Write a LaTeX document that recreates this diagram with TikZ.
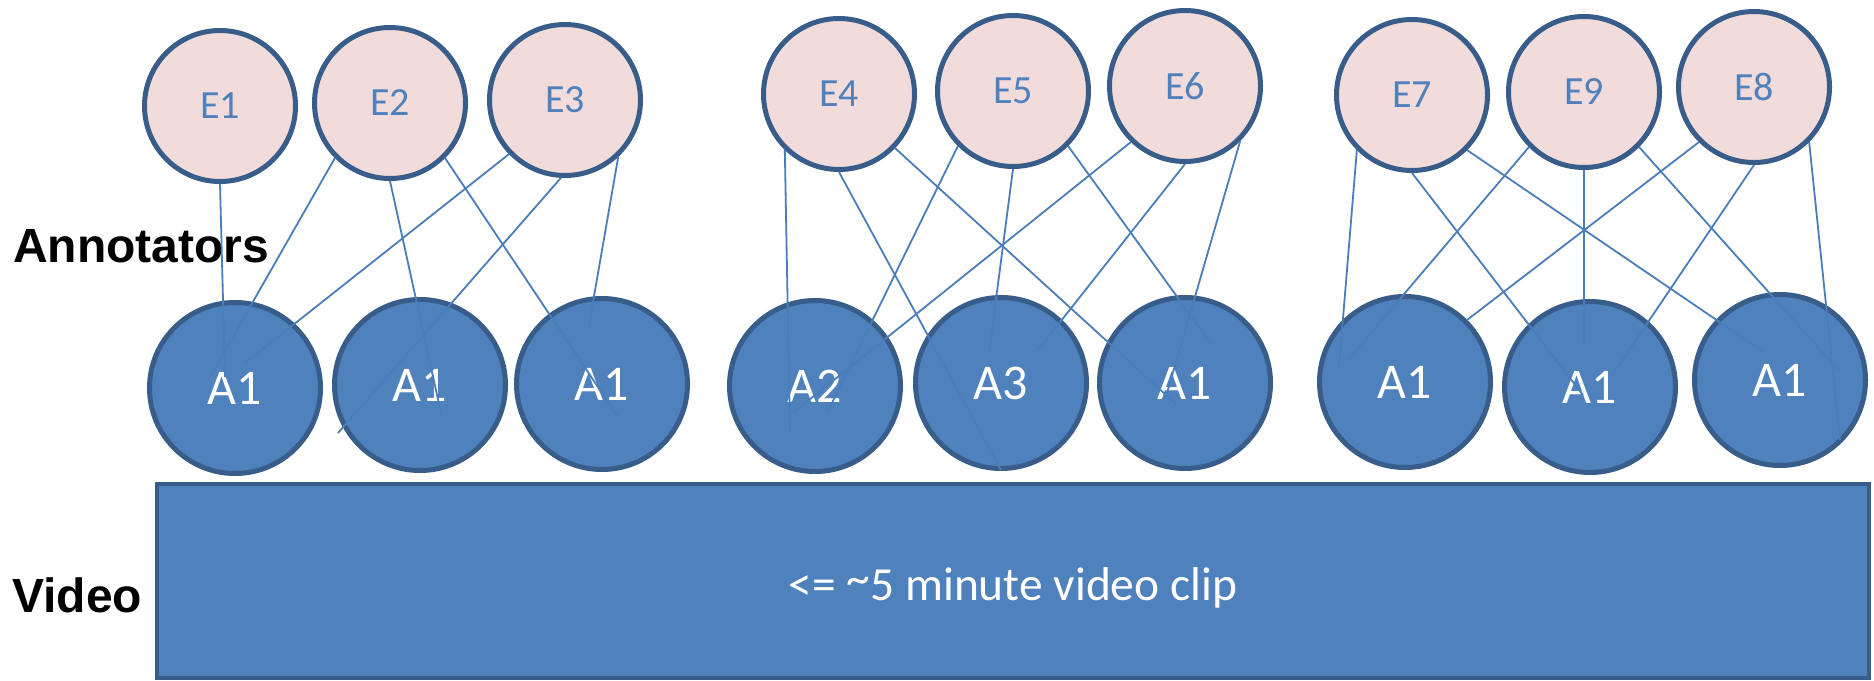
\documentclass[tikz,border=0pt]{standalone}
\usepackage{fontspec}
\setmainfont{Carlito}
\newfontfamily\headfont{Liberation Sans}
\usetikzlibrary{calc}

\definecolor{eFill}{HTML}{F2DCDB}
\definecolor{aFill}{HTML}{4F81BD}
\definecolor{ringC}{HTML}{385D8A}
\definecolor{wireC}{HTML}{4A7EBB}
\definecolor{eText}{HTML}{4F81BD}

\begin{document}
\begin{tikzpicture}[x=1pt, y=-1pt,
  every node/.style={inner sep=0pt},
  expert/.style={circle, draw=ringC, line width=5pt, fill=eFill, minimum size=151pt,
    text=eText, font=\fontsize{40}{48}\selectfont},
  annot/.style={circle, draw=ringC, line width=5pt, fill=aFill, minimum size=171pt,
    text=white, font=\fontsize{50}{60}\selectfont},
  clipbox/.style={rectangle, draw=ringC, line width=3.5pt, fill=aFill,
    minimum width=1712pt, minimum height=194pt},
  wire/.style={draw=wireC, line width=1.8pt},
  rowtag/.style={anchor=base west, font=\headfont\bfseries\fontsize{48}{58}\selectfont}
]
\useasboundingbox (0,0) rectangle (1874,680);

% row labels
\node[rowtag] (tagann) at (13,262) {Annotators};
\node[rowtag] (tagvid) at (12,612) {Video};

% experts
\node[expert] (e1) at (220,106) {E1};
\node[expert] (e2) at (390,103) {E2};
\node[expert] (e3) at (565,100) {E3};
\node[expert] (e4) at (839,94)  {E4};
\node[expert] (e5) at (1013,91) {E5};
\node[expert] (e6) at (1185,86) {E6};
\node[expert] (e7) at (1412,95) {E7};
\node[expert] (e9) at (1584,92) {E9};
\node[expert] (e8) at (1754,87) {E8};

% annotators
\node[annot] (a1) at (235,388)  {A1};
\node[annot] (a2) at (420,385)  {A1};
\node[annot] (a3) at (602,384)  {A1};
\node[annot] (a4) at (815,386)  {A2};
\node[annot] (a5) at (1001,383) {A3};
\node[annot] (a6) at (1185,383) {A1};
\node[annot] (a7) at (1405,382) {A1};
\node[annot] (a8) at (1590,387) {A1};
\node[annot] (a9) at (1780,380) {A1};

% video clip
\node[clipbox] (clip) at (1013,581) {};
\node[anchor=base, text=white, font=\fontsize{47.5}{57}\selectfont] (cliptext)
  at ($(clip.center)+(0,19)$) {<= \raisebox{6pt}{\textasciitilde}5 minute video clip};

% links, first group
\draw[wire] (e1.-90)  -- ($(a1.center)+(-10,-11)$);
\draw[wire] (e2.-135) -- ($(a1.center)+(-25,-11)$);
\draw[wire] (e2.-90)  -- ($(a2.center)+(21,28)$);
\draw[wire] (e2.-45)  -- ($(a3.center)+(16,33)$);
\draw[wire] (e3.-136) -- ($(a1.center)+(10,-25)$);
\draw[wire] (e3.-93)  -- ($(a2.center)+(-82,48)$);
\draw[wire] (e3.-47)  -- ($(a3.center)+(-13,-59)$);

% links, second group
\draw[wire] (e4.-134) -- ($(a4.center)+(-25,47)$);
\draw[wire] (e4.-90)  -- ($(a5.center)+(0,87)$);
\draw[wire] (e4.-44)  -- ($(a6.center)+(-8,22)$);
\draw[wire] (e5.-135) -- ($(a4.center)+(12,27)$);
\draw[wire] (e5.-90)  -- ($(a5.center)+(-12,-30)$);
\draw[wire] (e5.-45)  -- ($(a6.center)+(27,-38)$);
\draw[wire] (e6.-134) -- ($(a4.center)+(-21,26)$);
\draw[wire] (e6.-90)  -- ($(a5.center)+(37,-33)$);
\draw[wire] (e6.-45)  -- ($(a6.center)+(-20,17)$);

% links, third group
\draw[wire] (e7.-135) -- ($(a7.center)+(-66,-15)$);
\draw[wire] (e7.-90)  -- ($(a8.center)+(-7,8)$);
\draw[wire] (e7.-45)  -- ($(a9.center)+(-15,-27)$);
\draw[wire] (e9.-135) -- ($(a7.center)+(-57,-22)$);
\draw[wire] (e9.-90)  -- ($(a8.center)+(-6,-40)$);
\draw[wire] (e9.-45)  -- ($(a9.center)+(60,-8)$);
\draw[wire] (e8.-135) -- ($(a7.center)+(62,-62)$);
\draw[wire] (e8.-90)  -- ($(a8.center)+(21,-10)$);
\draw[wire] (e8.-45)  -- ($(a9.center)+(60,60)$);
\end{tikzpicture}
\end{document}
